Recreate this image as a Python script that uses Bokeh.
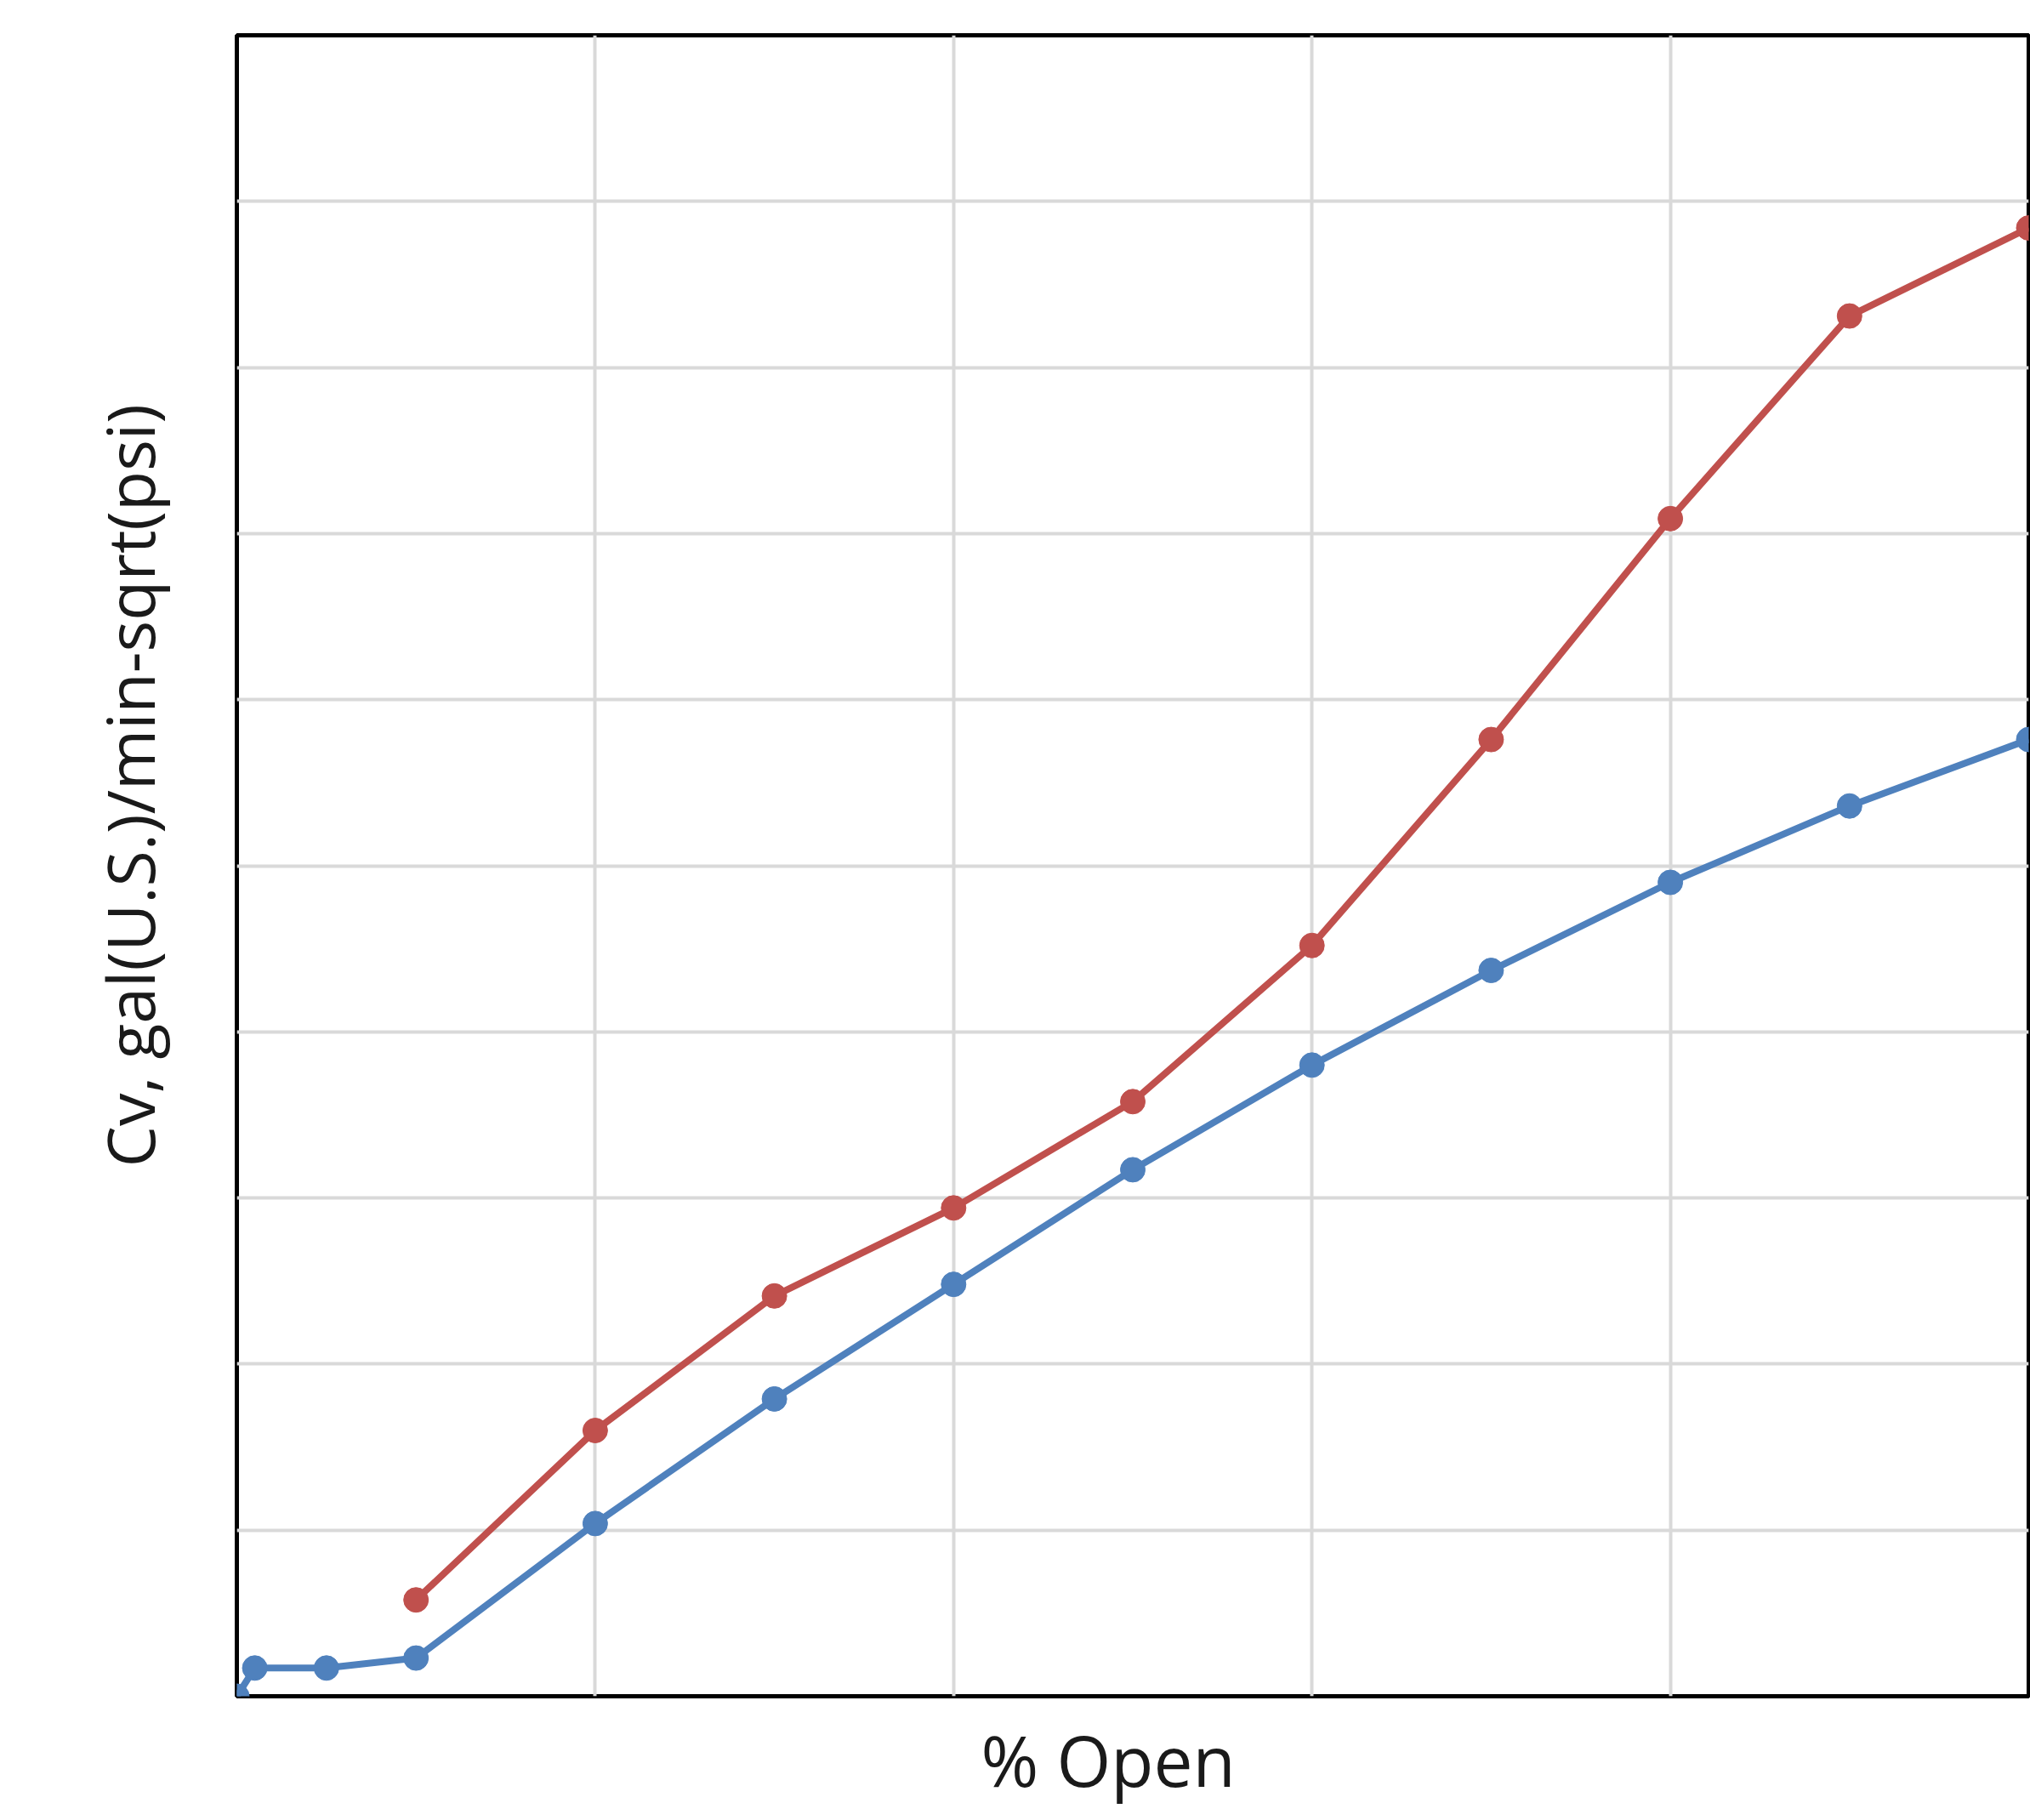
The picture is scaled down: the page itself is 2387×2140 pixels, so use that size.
from bokeh.plotting import figure
from bokeh.models import FixedTicker, Range1d, Title
from bokeh.embed import file_html
from bokeh.resources import INLINE

# Data (x: % open, y: Cv in chart units)
open_blue = [0, 1, 5, 10, 20, 30, 40, 50, 60, 70, 80, 90, 100]
cv_blue = [0.0, 1.7, 1.7, 2.3, 10.4, 17.9, 24.8, 31.7, 38.0, 43.7, 49.0, 53.6, 57.6]

open_red = [10, 20, 30, 40, 50, 60, 70, 80, 90, 100]
cv_red = [5.8, 16.0, 24.1, 29.4, 35.8, 45.2, 57.6, 70.9, 83.1, 88.4]

x_grid_ticks = [0, 20, 40, 60, 80, 100]
y_grid_ticks = [0, 10, 20, 30, 40, 50, 60, 70, 80, 90, 100]

x_title_text = "% Open"
y_title_text = "Cv, gal(U.S.)/min-sqrt(psi)"

BLUE = "#4f81bd"
RED = "#c0504d"
FONT = "Open Sans"
TEXT_COLOR = "#1a1a1a"

p = figure(width=2387, height=2140, output_backend="svg", toolbar_location=None,
           x_range=Range1d(0, 100), y_range=Range1d(0, 100),
           min_border_left=278, min_border_top=41, min_border_right=2,
           min_border_bottom=144)

p.outline_line_color = "black"
p.outline_line_width = 5
p.background_fill_color = "white"
p.border_fill_color = "white"

# axes without tick labels; grids keep their own tickers
for ax in (p.xaxis[0], p.yaxis[0]):
    ax.ticker = FixedTicker(ticks=[])
    ax.major_tick_line_color = None
    ax.minor_tick_line_color = None
    ax.major_tick_out = 0
    ax.major_tick_in = 0
    ax.major_label_standoff = 0
    ax.axis_line_color = None

p.xgrid.ticker = FixedTicker(ticks=x_grid_ticks)
p.ygrid.ticker = FixedTicker(ticks=y_grid_ticks)

x_title = Title(text=x_title_text, align="left", offset=875, standoff=32,
                vertical_align="bottom",
                text_font=FONT, text_font_size="82px", text_font_style="normal",
                text_color=TEXT_COLOR)
p.add_layout(x_title, "below")

y_title = Title(text=y_title_text, align="left", offset=622, standoff=148,
                vertical_align="bottom",
                text_font=FONT, text_font_size="77px", text_font_style="normal",
                text_color=TEXT_COLOR)
p.add_layout(y_title, "left")

p.xgrid.grid_line_color = "#d9d9d9"
p.ygrid.grid_line_color = "#d9d9d9"
p.xgrid.grid_line_width = 4
p.ygrid.grid_line_width = 4

p.line(open_red, cv_red, line_color=RED, line_width=8)
p.scatter(open_red, cv_red, size=29, fill_color=RED, line_color=RED)

p.line(open_blue, cv_blue, line_color=BLUE, line_width=8)
p.scatter(open_blue, cv_blue, size=29, fill_color=BLUE, line_color=BLUE)

open("out.html", "w").write(file_html(p, INLINE))
